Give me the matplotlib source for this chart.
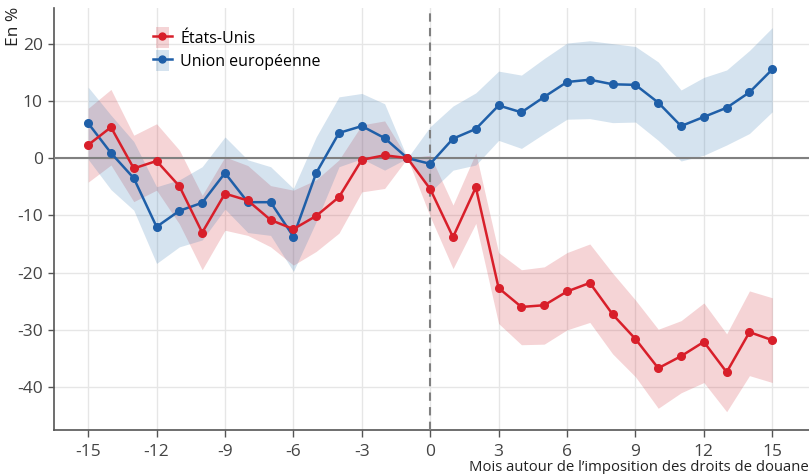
import matplotlib.pyplot as plt
from matplotlib.lines import Line2D
from matplotlib.patches import Patch, Rectangle
from matplotlib.legend_handler import HandlerPatch

plt.rcParams['font.family'] = ['Open Sans', 'DejaVu Sans']
plt.rcParams['axes.unicode_minus'] = False

# mois autour de l'imposition des droits
mois = list(range(-15, 16))

# États-Unis : estimation et intervalle de confiance
us = [2.3, 5.4, -1.8, -0.5, -4.9, -13.0, -6.2, -7.4, -10.8, -12.4, -10.1, -6.8, -0.3, 0.5, 0.0,
      -5.4, -13.8, -5.1, -22.7, -26.0, -25.7, -23.3, -21.8, -27.3, -31.6, -36.7, -34.6, -32.1, -37.4, -30.4, -31.8]
us_haut = [8.7, 12.0, 4.0, 6.0, 1.4, -6.5, 0.2, -1.3, -4.8, -5.6, -3.8, -0.3, 5.8, 6.5, 0.0,
           0.5, -8.2, 0.9, -16.5, -19.5, -19.0, -16.5, -15.0, -20.1, -24.8, -29.9, -28.4, -25.3, -30.7, -23.2, -24.4]
us_bas = [-4.2, -1.2, -7.6, -5.6, -11.5, -19.5, -12.6, -13.5, -15.5, -18.7, -16.3, -13.1, -5.9, -5.3, 0.0,
          -10.2, -19.3, -11.4, -28.9, -32.6, -32.5, -30.0, -28.7, -34.2, -38.2, -43.7, -41.0, -39.2, -44.3, -38.0, -39.2]

# Union européenne
ue = [6.1, 0.9, -3.5, -12.0, -9.2, -7.8, -2.6, -7.7, -7.7, -13.7, -2.6, 4.4, 5.6, 3.5, 0.0,
      -1.0, 3.4, 5.1, 9.2, 8.0, 10.7, 13.3, 13.7, 12.9, 12.8, 9.7, 5.6, 7.2, 8.8, 11.5, 15.5]
ue_haut = [12.4, 7.5, 2.9, -5.0, -3.8, -1.5, 3.7, -0.3, -1.5, -5.3, 3.7, 10.7, 11.3, 9.5, 0.0,
           5.5, 9.1, 11.4, 15.2, 14.5, 17.4, 20.1, 20.5, 20.0, 19.5, 16.8, 11.9, 14.1, 15.4, 18.8, 22.8]
ue_bas = [-0.2, -5.5, -9.1, -18.4, -15.5, -14.3, -8.9, -13.0, -13.5, -19.8, -11.1, -1.5, -0.1, -2.1, 0.0,
          -5.9, -2.1, -1.2, 3.1, 1.7, 4.3, 6.8, 6.9, 6.2, 6.3, 3.1, -0.5, 0.5, 2.3, 4.3, 8.1]

rouge = "#d81f2a"
bleu = "#1f5fa8"
rouge_bande = "#d12832"
bleu_bande = "#2e75b0"

fig = plt.figure(figsize=(8.09, 4.74), dpi=100)
ax = fig.add_axes([0.0667, 0.0928, 0.933, 0.890])

ax.fill_between(mois, us_bas, us_haut, color=rouge_bande, alpha=0.2, lw=0, zorder=2)
ax.fill_between(mois, ue_bas, ue_haut, color=bleu_bande, alpha=0.2, lw=0, zorder=2)

ax.axhline(0, color="#808080", lw=1.5, zorder=3)
ax.axvline(0, color="#808080", lw=1.5, ls=(0, (4, 3)), zorder=3)

ax.plot(mois, ue, color=bleu, lw=1.8, marker="o", ms=5.5, zorder=5)
ax.plot(mois, us, color=rouge, lw=1.8, marker="o", ms=5.5, zorder=6)

ax.set_xlim(-16.5, 16.6)
ax.set_ylim(-47.5, 26.2)
ax.set_xticks(range(-15, 16, 3))
ax.set_yticks(range(-40, 21, 10))

ax.grid(True, color="#e6e6e6", lw=1)
ax.set_axisbelow(True)
for s in ["top", "right"]:
    ax.spines[s].set_visible(False)
for s in ["left", "bottom"]:
    ax.spines[s].set_color("#555555")
    ax.spines[s].set_linewidth(1.2)
ax.tick_params(colors="#555555", labelcolor="#444444", labelsize=12.5, width=1)
ax.tick_params(axis="x", length=5, pad=5)
ax.tick_params(axis="y", length=4, pad=4)

# titre de l'axe vertical en haut à gauche
fig.text(14 / 809, 1 - 7 / 474, "En %", rotation=90, ha="center", va="top",
         fontsize=12.5, color="#222222")
ax.set_xlabel("Mois autour de l\u2019imposition des droits de douane", loc="right",
              fontsize=10.7, color="#222222", labelpad=0)


# carré de la bande plus étroit que le trait dans la légende
def carre_bande(legend, orig_handle, xdescent, ydescent, width, height, fontsize):
    return Rectangle((-xdescent + width * 0.14, -ydescent - height * 0.12),
                     width * 0.72, height * 1.24)


handles = [
    (Patch(facecolor=rouge_bande, alpha=0.2, lw=0),
     Line2D([], [], color=rouge, lw=1.8, marker="o", ms=5)),
    (Patch(facecolor=bleu_bande, alpha=0.2, lw=0),
     Line2D([], [], color=bleu, lw=1.8, marker="o", ms=5)),
]
ax.legend(handles, ["États-Unis", "Union européenne"], loc="upper left",
          bbox_to_anchor=(0.112, 0.985), frameon=False, fontsize=11.5,
          handlelength=1.2, handleheight=1.25, handletextpad=0.5, labelspacing=0.35,
          handler_map={Patch: HandlerPatch(patch_func=carre_bande)})

fig.savefig("out.png", dpi=100)
